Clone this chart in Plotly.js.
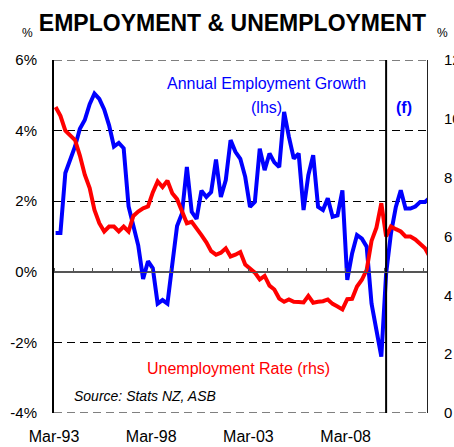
<!DOCTYPE html>
<html>
<head>
<meta charset="utf-8">
<script src="https://cdn.plot.ly/plotly-3.0.1.min.js"></script>
<style>html,body{margin:0;padding:0;background:#fff;}#chart{width:454px;height:447px;}</style>
</head>
<body>
<div id="chart"></div>
<script>
// Quarterly series, first quarter Mar-93
const firstYear = 1993;
// Annual employment growth (%, lhs)
const employmentGrowth = [
  1.1, 1.1, 2.8, 3.2, 3.55, 4.05, 4.3, 4.75,
  5.05, 4.9, 4.6, 4.15, 3.55, 3.65, 3.5, 1.85,
  1.27, 0.75, -0.2, 0.3, 0.1, -0.9, -0.8, -0.9,
  0.2, 1.3, 1.65, 2.97, 1.7, 1.5, 2.3, 2.12,
  2.26, 3.18, 2.12, 2.6, 3.73, 3.4, 3.2, 2.69,
  1.84, 1.98, 3.49, 2.88, 3.35, 3.1, 2.97, 4.53,
  3.82, 3.21, 3.35, 1.75, 2.74, 3.3, 1.84, 1.75,
  2.08, 1.56, 1.6, 2.31, -0.23, 0.52, 1.04, 0.94,
  0.71, -0.9, -1.65, -2.4, -0.05, 1.09, 1.84, 2.31,
  1.79, 1.79, 1.85, 1.98, 1.98, 2.1
];
// Unemployment rate (%, rhs)
const unemploymentRate = [
  10.4, 10.1, 9.6, 9.42, 9.28, 8.75, 8.1, 7.65,
  6.9, 6.45, 6.17, 6.34, 6.34, 6.17, 6.34, 6.17,
  6.7, 6.85, 6.96, 7.02, 7.5, 7.87, 7.68, 7.9,
  7.47, 7.27, 6.9, 6.45, 6.5, 6.3, 6.05, 5.8,
  5.5, 5.38, 5.45, 5.6, 5.32, 5.38, 5.47, 5.05,
  4.9, 4.77, 4.54, 4.66, 4.33, 4.2, 3.89, 3.78,
  3.86, 3.78, 3.77, 3.76, 3.98, 3.75, 3.78, 3.8,
  3.86, 3.71, 3.62, 3.52, 3.87, 3.88, 4.3, 4.53,
  4.87, 5.85, 6.3, 7.13, 6.0, 6.34, 6.25, 6.17,
  6.0, 6.0, 5.9, 5.77, 5.6, 5.3
];
const tickDates = ['1993-03-01', '1998-03-01', '2003-03-01', '2008-03-01'];
const tickLabels = ['Mar-93', 'Mar-98', 'Mar-03', 'Mar-08'];
const leftTicks = [-4, -2, 0, 2, 4, 6];
const rightTicks = [0, 2, 4, 6, 8, 10, 12];
const forecastStart = '2010-03-31';
const xRange = ['1993-03-01', '2012-05-07'];

// quarter-end dates
const monthEnds = ['03-31', '06-30', '09-30', '12-31'];
const quarters = employmentGrowth.map((_, i) => (firstYear + Math.floor(i / 4)) + '-' + monthEnds[i % 4]);

const FONT = 'Arial, "Liberation Sans", sans-serif';

const traces = [
  {x: [forecastStart, forecastStart], y: [-4, 6], xaxis: 'x2', yaxis: 'y', mode: 'lines',
   line: {color: '#000', width: 2}, hoverinfo: 'skip'},
  {x: quarters, y: unemploymentRate, yaxis: 'y2', mode: 'lines',
   line: {color: '#FF0000', width: 4}, name: 'Unemployment Rate (rhs)'},
  {x: quarters, y: employmentGrowth, yaxis: 'y', mode: 'lines',
   line: {color: '#0000FF', width: 4}, name: 'Annual Employment Growth (lhs)'}
];

const W = 373, H = 353, L = 54, T = 60;
const px = v => (v - L) / W;
const py = v => (T + H - v) / H;

// dashed border gridlines at the ends of the left axis
const edgeGrid = [leftTicks[0], leftTicks[leftTicks.length - 1]].map(v => ({
  type: 'line', xref: 'paper', x0: 0, x1: 1, yref: 'y', y0: v, y1: v,
  line: {color: '#000', width: 1, dash: '8px,5px'}, layer: 'below'
}));

const layout = {
  width: 454, height: 447,
  margin: {l: L, r: 27, t: T, b: 34, pad: 0},
  paper_bgcolor: '#fff', plot_bgcolor: '#fff',
  showlegend: false, hovermode: false,
  font: {family: FONT, size: 15, color: '#000'},
  title: {text: '<b>EMPLOYMENT & UNEMPLOYMENT</b>', font: {family: FONT, size: 23, color: '#000'},
          x: 0.512, xanchor: 'center', y: 1 - 23 / 447, yanchor: 'middle', yref: 'container', xref: 'container'},
  xaxis: {type: 'date', range: xRange, tickvals: tickDates, ticktext: tickLabels,
          showgrid: false, zeroline: false, showline: false, ticks: '',
          tickfont: {size: 16}, ticklabelstandoff: 12},
  xaxis2: {type: 'date', range: xRange, overlaying: 'x', anchor: 'free', position: 0.4, side: 'top',
           showgrid: false, zeroline: false, showline: true, linecolor: '#555', linewidth: 1,
           ticks: 'outside', ticklen: 4, tickcolor: '#555', tickwidth: 1,
           tick0: '1993-03-01', dtick: 'M12', showticklabels: false},
  yaxis: {range: [-4, 6], tickvals: leftTicks, ticktext: leftTicks.map(v => v + '%'),
          showgrid: true, gridcolor: '#000', gridwidth: 1, griddash: '8px,5px',
          zeroline: true, zerolinecolor: '#555', zerolinewidth: 1,
          showline: true, linecolor: '#000', linewidth: 2, ticks: '', ticklabelstandoff: 12,
          tickfont: {size: 15}},
  yaxis2: {range: [0, 12], tickvals: rightTicks, overlaying: 'y', side: 'right',
           showgrid: false, zeroline: false, showline: true, linecolor: '#222', linewidth: 1,
           ticks: '', ticklabelstandoff: 13, tickfont: {size: 15}},
  shapes: edgeGrid,
  annotations: [
    {text: 'Annual Employment Growth', xref: 'paper', yref: 'paper', x: px(266), y: py(83),
     showarrow: false, font: {color: '#0000FF', size: 16}, xanchor: 'center', yanchor: 'middle'},
    {text: '(lhs)', xref: 'paper', yref: 'paper', x: px(266.7), y: py(107),
     showarrow: false, font: {color: '#0000FF', size: 16}, xanchor: 'center', yanchor: 'middle'},
    {text: '<b>(f)</b>', xref: 'paper', yref: 'paper', x: px(403.7), y: py(108),
     showarrow: false, font: {color: '#0000FF', size: 16}, xanchor: 'center', yanchor: 'middle'},
    {text: 'Unemployment Rate (rhs)', xref: 'paper', yref: 'paper', x: px(238), y: py(368),
     showarrow: false, font: {color: '#FF0000', size: 16}, xanchor: 'center', yanchor: 'middle'},
    {text: '<i>Source: Stats NZ, ASB</i>', xref: 'paper', yref: 'paper', x: px(145), y: py(396),
     showarrow: false, font: {color: '#000', size: 14}, xanchor: 'center', yanchor: 'middle'},
    {text: '%', xref: 'paper', yref: 'paper', x: px(28), y: py(33),
     showarrow: false, font: {color: '#000', size: 12}, xanchor: 'center', yanchor: 'middle'},
    {text: '%', xref: 'paper', yref: 'paper', x: px(442), y: py(33),
     showarrow: false, font: {color: '#000', size: 12}, xanchor: 'center', yanchor: 'middle'}
  ]
};

Plotly.newPlot('chart', traces, layout, {staticPlot: true, displayModeBar: false});
</script>
</body>
</html>
